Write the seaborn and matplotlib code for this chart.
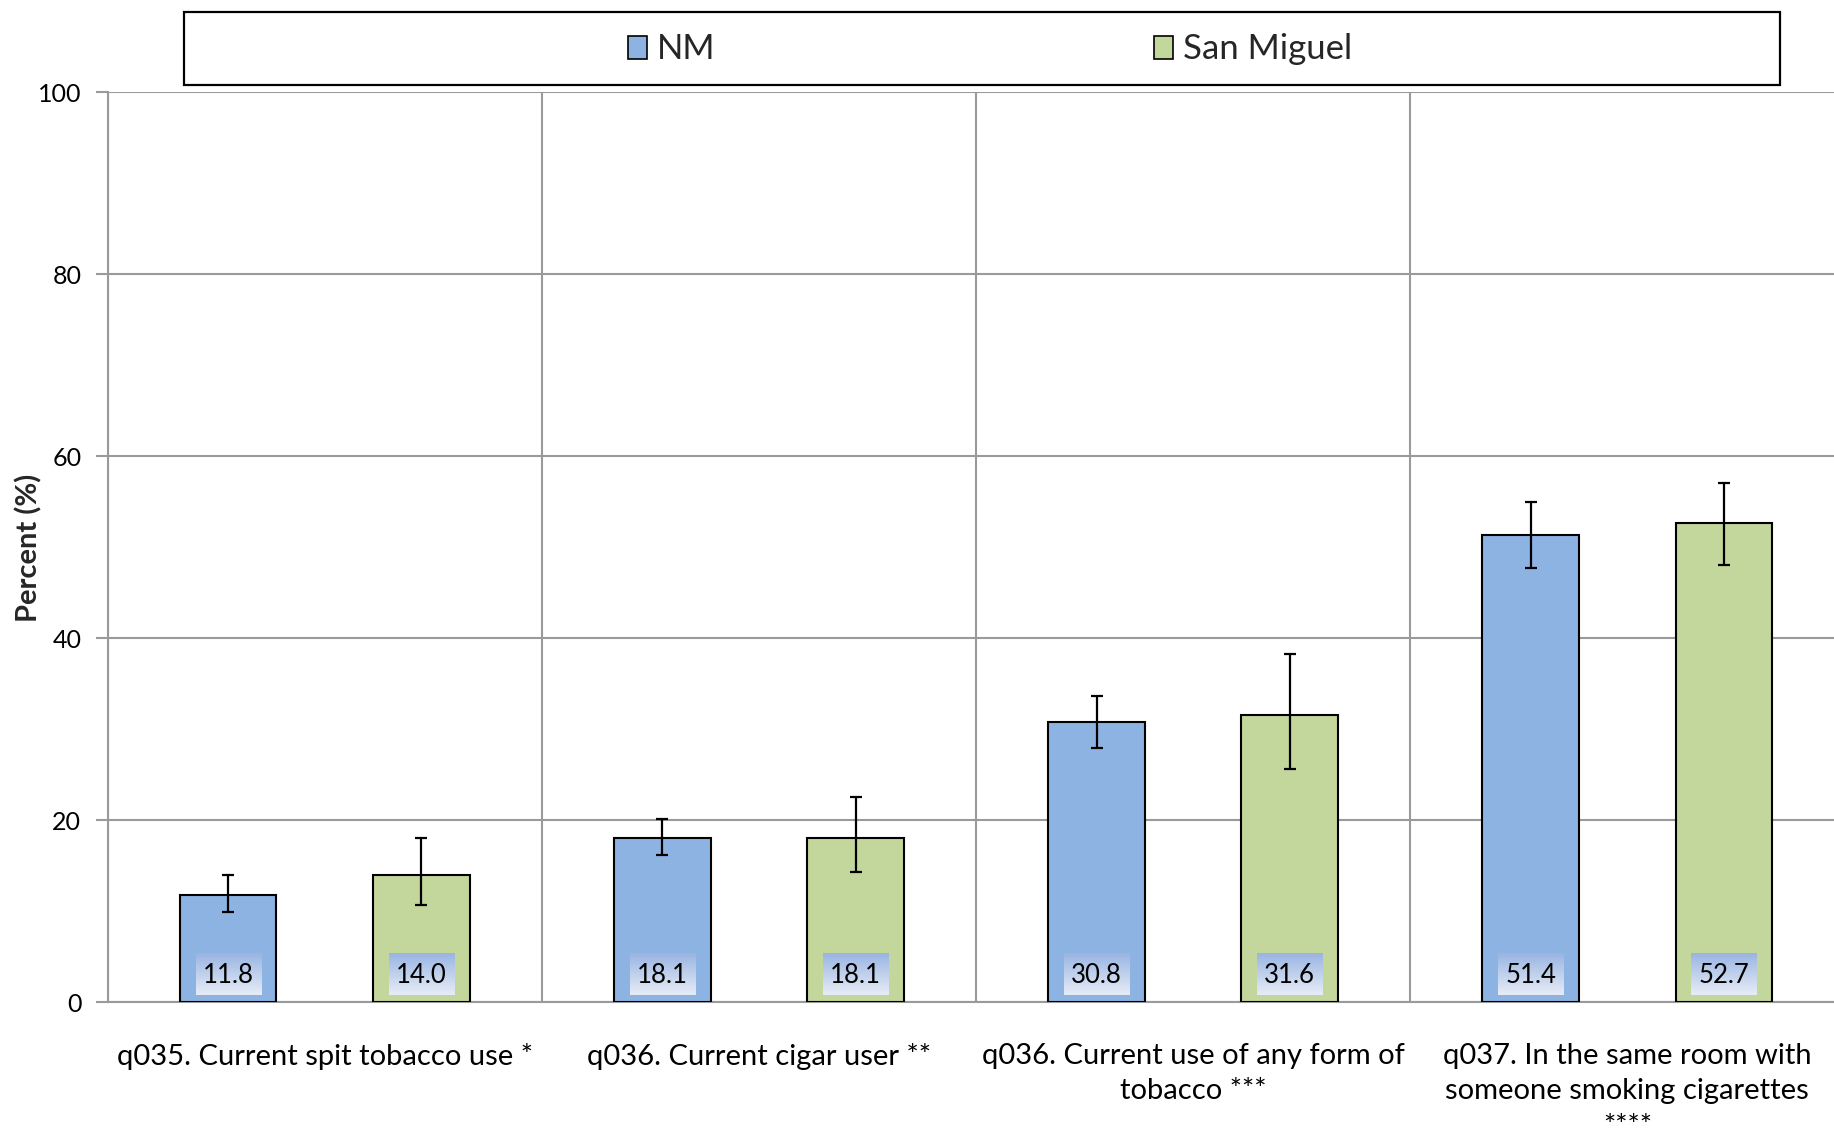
import numpy as np
import pandas as pd
import matplotlib
matplotlib.use('Agg')
import matplotlib.pyplot as plt
import seaborn as sns
from matplotlib.patches import Rectangle, Patch

# ---------------- data ----------------
questions = [
    'q035. Current spit tobacco use *',
    'q036. Current cigar user **',
    'q036. Current use of any form of\ntobacco ***',
    'q037. In the same room with\nsomeone smoking cigarettes\n****',
]
areas = ['NM', 'San Miguel']

nm_pct = [11.8, 18.1, 30.8, 51.4]
nm_lo = [9.9, 16.2, 28.0, 47.7]
nm_hi = [14.0, 20.1, 33.7, 55.0]

sm_pct = [14.0, 18.1, 31.6, 52.7]
sm_lo = [10.7, 14.3, 25.6, 48.1]
sm_hi = [18.1, 22.6, 38.3, 57.1]

y_ticks = [0, 20, 40, 60, 80, 100]

df = pd.DataFrame({
    'question': questions * 2,
    'area': [areas[0]] * 4 + [areas[1]] * 4,
    'percent': nm_pct + sm_pct,
    'lo': nm_lo + sm_lo,
    'hi': nm_hi + sm_hi,
})

# ---------------- style ----------------
sns.set_theme(style='white')
plt.rcParams['font.family'] = ['Lato', 'DejaVu Sans']

grid_col = '#9a9a9a'
colors = {'NM': '#8DB3E2', 'San Miguel': '#C3D69B'}

fig = plt.figure(figsize=(18.34, 11.33), dpi=100)
ax = fig.add_axes([0.0587, 0.1153, 0.947, 0.8031])

sns.barplot(
    data=df, x='question', y='percent', hue='area',
    palette=colors, saturation=1, width=0.89, gap=0.5, errorbar=None,
    edgecolor='black', linewidth=1.5, legend=False,
    zorder=3, ax=ax
)

# error bars + value boxes
for cont, sub in zip(ax.containers, [df[df.area == a] for a in areas]):
    xs = [b.get_x() + b.get_width() / 2 for b in cont]
    ys = sub['percent'].values
    err = [ys - sub['lo'].values, sub['hi'].values - ys]
    ax.errorbar(xs, ys, yerr=err, fmt='none', ecolor='black',
                elinewidth=1.6, capsize=4.5, capthick=1.6, zorder=5)
    grad = np.linspace(0, 1, 50).reshape(-1, 1)
    for x, v in zip(xs, ys):
        ax.imshow(grad, extent=[x - 0.075, x + 0.075, 0.8, 5.4],
                  cmap=matplotlib.colors.LinearSegmentedColormap.from_list(
                      'lab', ['#9ab5e2', '#e6ecf7']),
                  aspect='auto', zorder=4, origin='upper')
        ax.text(x, 3.0, f'{v:.1f}', ha='center', va='center',
                fontsize=18.5, color='black', zorder=6)

ax.set_xlim(-0.5, 3.5)
ax.set_ylim(0, 100)
ax.set_yticks(y_ticks)

# axes look
ax.set_xlabel('')
ax.set_ylabel('Percent (%)', fontsize=21, fontweight='bold', va='center')
ax.yaxis.set_label_coords(-0.0455, 0.5)
for s in ['top', 'right']:
    ax.spines[s].set_visible(False)
for s in ['left', 'bottom']:
    ax.spines[s].set_color(grid_col)
    ax.spines[s].set_linewidth(1.5)

ax.set_xticks(range(4))
ax.set_xticklabels(questions, fontsize=21, linespacing=1.45)
ax.set_xticks([-0.5, 0.5, 1.5, 2.5, 3.5], minor=True)
ax.tick_params(axis='x', which='major', length=0, pad=29, colors='black')
ax.tick_params(axis='x', which='minor', length=10, width=1.5, color=grid_col)
ax.tick_params(axis='y', length=9, width=1.5, color=grid_col, labelsize=18,
               labelcolor='black', pad=10, left=True)
ax.grid(axis='y', color=grid_col, linewidth=1.5, zorder=0)
ax.grid(axis='x', which='minor', color=grid_col, linewidth=1.5, zorder=0)
ax.set_axisbelow(True)

# legend with its own frame
fig.patches.append(Rectangle((0.1001, 0.9246), 0.8705, 0.0651,
                             transform=fig.transFigure, fill=False,
                             edgecolor='black', linewidth=1.6))
handles = [Patch(facecolor=colors[a], edgecolor='black', linewidth=1.2) for a in areas]
fig.legend(handles, areas, loc='center', bbox_to_anchor=(0.5398, 0.9565),
           ncol=2, frameon=False, fontsize=25, columnspacing=12.65,
           handlelength=0.55, handleheight=0.65, handletextpad=0.28)

fig.savefig('out.png', dpi=100)
